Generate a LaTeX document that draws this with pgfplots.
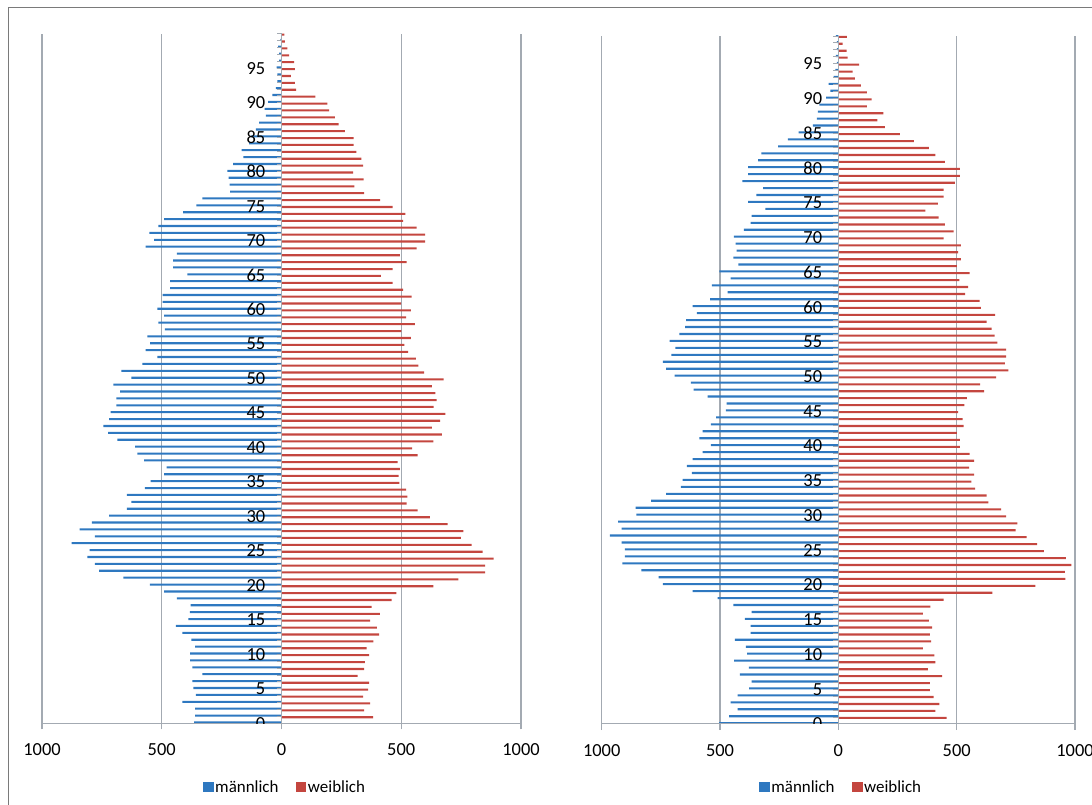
\documentclass[border=0pt]{standalone}
\usepackage{pgfplots}
\pgfplotsset{compat=1.18}
\usepackage{pgfplotstable}
\usepackage{fontspec}
\setmainfont{Carlito}
\definecolor{mblue}{HTML}{2E78C0}
\definecolor{wred}{HTML}{C4463F}
\definecolor{gridc}{HTML}{A3AAB2}
\definecolor{framec}{HTML}{7A7A7A}

\pgfplotstableread{
age m w
100 5 12
99 5 14
98 14 25
97 10 32
96 10 53
95 20 56
94 17 39
93 17 56
92 24 61
91 38 141
90 56 192
89 70 199
88 65 223
87 93 238
86 107 265
85 128 301
84 135 301
83 167 313
82 159 334
81 202 341
80 226 299
79 221 343
78 217 304
77 214 345
76 330 412
75 355 464
74 411 517
73 490 508
72 514 564
71 552 600
70 532 600
69 567 564
68 437 494
67 453 522
66 453 464
65 393 415
64 465 464
63 465 508
62 496 543
61 496 499
60 518 540
59 490 520
58 514 557
57 487 501
56 560 540
55 549 513
54 567 529
53 518 561
52 581 571
51 669 596
50 627 677
49 702 628
48 674 642
47 689 648
46 689 635
45 713 684
44 720 662
43 744 628
42 724 670
41 685 634
40 611 545
39 602 568
38 574 485
37 480 494
36 490 489
35 546 492
34 570 520
33 646 526
32 627 522
31 646 568
30 720 620
29 792 694
28 843 759
27 779 749
26 876 794
25 801 840
24 811 886
23 779 850
22 762 850
21 660 738
20 550 634
19 490 480
18 437 460
17 379 376
16 383 411
15 389 370
14 441 398
13 414 408
12 376 384
11 361 355
10 382 366
9 382 348
8 372 345
7 330 318
6 372 366
5 368 362
4 358 341
3 414 370
2 361 345
1 361 383
0 365 380
}\leftdata

\pgfplotstableread{
age m w
99 10 36
98 6 18
97 6 35
96 10 39
95 6 88
94 13 60
93 20 70
92 41 95
91 34 120
90 52 141
89 80 120
88 87 190
87 91 165
86 108 197
85 168 260
84 213 319
83 255 382
82 325 410
81 339 450
80 381 513
79 381 513
78 406 492
77 318 445
76 346 445
75 381 420
74 308 368
73 367 424
72 371 450
71 399 487
70 441 445
69 434 518
68 430 506
67 444 518
66 423 501
65 503 555
64 455 511
63 535 548
62 468 536
61 542 597
60 616 602
59 598 662
58 643 627
57 647 648
56 672 660
55 713 672
54 689 709
53 706 709
52 742 704
51 728 718
50 692 667
49 623 599
48 612 616
47 552 543
46 472 532
45 475 506
44 517 525
43 539 529
42 574 501
41 587 513
40 539 513
39 574 555
38 616 574
37 640 553
36 619 574
35 658 562
34 665 578
33 728 627
32 791 634
31 857 688
30 853 709
29 931 756
28 916 749
27 966 796
26 916 840
25 902 868
24 902 961
23 913 985
22 832 957
21 759 959
20 742 833
19 616 651
18 510 445
17 444 389
16 367 357
15 395 382
14 371 396
13 371 387
12 437 392
11 391 357
10 385 406
9 440 410
8 378 378
7 416 438
6 367 387
5 377 387
4 426 403
3 455 427
2 426 410
1 462 457
0 504 450
}\rightdata

\pgfplotsset{
  pyr/.style={
    scale only axis,
    xmin=-1000, xmax=1000, ymin=0,
    enlargelimits=false,
    xtick={-1000,-500,0,500,1000},
    xticklabels={1000,500,0,500,1000},
    ytick=\empty,
    axis line style={draw=none},
    xtick pos=bottom,
    xtick align=outside,
    major tick length=6bp,
    tick style={draw=gridc, line width=1.2bp},
    xmajorgrids,
    major grid style={draw=gridc, line width=1.2bp},
    xticklabel style={font=\fontsize{18.5}{20}\selectfont, yshift=-11bp},
    xbar, bar width=0.3,
    legend columns=2,
    legend image code/.code={\fill[##1] (0bp,-5bp) rectangle (10.5bp,5.5bp);},
    legend style={draw=none, fill=none, inner sep=0pt,
      font=\fontsize{17}{19}\selectfont,
      nodes={inner sep=1.5bp},
      /tikz/every even column/.append style={column sep=16bp}},
  },
  mplot/.style={fill=mblue, draw=none, bar shift=0.12},
  wplot/.style={fill=wred, draw=none, bar shift=-0.12},
}

\begin{document}
\begin{tikzpicture}
\draw[framec, line width=1.6bp] (8.5bp,-50bp) rectangle (1200bp,797.5bp);

\begin{axis}[pyr, at={(42bp,81.7bp)}, anchor=south west,
  width=479bp, height=689.5bp, ymax=100,
  legend style={at={(0.507,-0.0924)}, anchor=center}]
\addplot[mplot] table[x expr=-\thisrow{m}, y=age] {\leftdata};
\addplot[wplot] table[x=w, y=age] {\leftdata};
\legend{männlich, weiblich}
\draw[gridc, line width=1.2bp] (axis cs:-1000,0) -- (axis cs:1000,0);
\draw[gridc, line width=1.2bp] (axis cs:0,0) -- (axis cs:0,100);
\pgfplotsinvokeforeach{0,...,100}{\draw[gridc, line width=0.9bp] (axis cs:0,#1) -- ([xshift=-5bp]axis cs:0,#1);}
\pgfplotsinvokeforeach{0,5,...,95}{\node[anchor=east, inner sep=0pt, font=\fontsize{18.5}{20}\selectfont] at ([xshift=-16bp]axis cs:0,#1) {#1};}
\end{axis}

\begin{axis}[pyr, at={(601.7bp,81bp)}, anchor=south west,
  width=473.3bp, height=688bp, ymax=99,
  legend style={at={(0.5056,-0.0916)}, anchor=center}]
\addplot[mplot] table[x expr=-\thisrow{m}, y=age] {\rightdata};
\addplot[wplot] table[x=w, y=age] {\rightdata};
\legend{männlich, weiblich}
\draw[gridc, line width=1.2bp] (axis cs:-1000,0) -- (axis cs:1000,0);
\draw[gridc, line width=1.2bp] (axis cs:0,0) -- (axis cs:0,99);
\pgfplotsinvokeforeach{0,...,99}{\draw[gridc, line width=0.9bp] (axis cs:0,#1) -- ([xshift=-5bp]axis cs:0,#1);}
\pgfplotsinvokeforeach{0,5,...,95}{\node[anchor=east, inner sep=0pt, font=\fontsize{18.5}{20}\selectfont] at ([xshift=-16bp]axis cs:0,#1) {#1};}
\end{axis}

\pgfresetboundingbox
\path[use as bounding box] (0,0) rectangle (1092bp,805bp);
\end{tikzpicture}
\end{document}
